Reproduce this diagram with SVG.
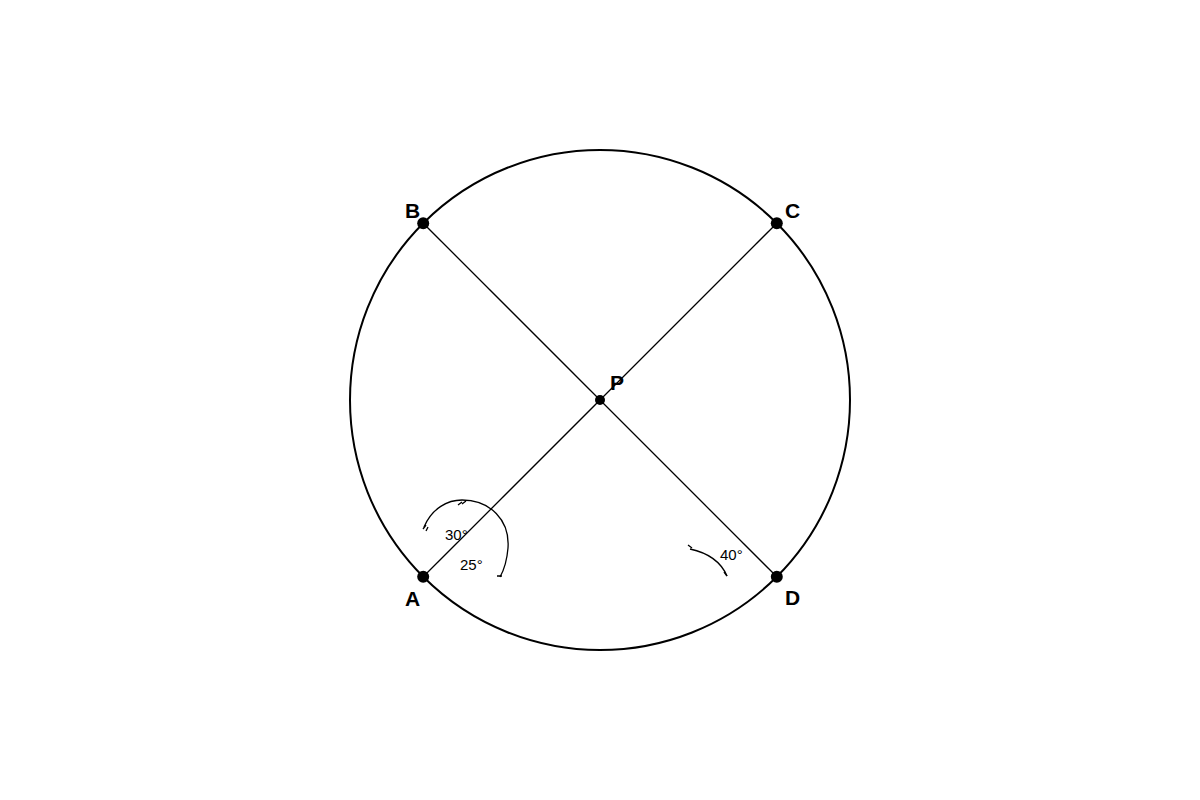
<svg xmlns="http://www.w3.org/2000/svg" width="1200" height="800" viewBox="0 0 1200 800">
<style>
.lbl{font-family:"Liberation Sans",Arial,sans-serif;font-weight:bold;font-size:21px;fill:#000}
.ang{font-family:"Liberation Sans",Arial,sans-serif;font-size:15px;fill:#000}
.arc{fill:none;stroke:#000;stroke-width:1.3}
.chord{stroke:#000;stroke-width:1.3}
</style>
<rect width="1200" height="800" fill="#fff"/>
<g id="circle"><circle cx="600" cy="400" r="250" fill="none" stroke="#000" stroke-width="2"/></g>
<g id="connectors">
<line class="chord" x1="423.2" y1="223.2" x2="776.8" y2="576.8"/>
<line class="chord" x1="776.8" y1="223.2" x2="423.2" y2="576.8"/>
</g>
<g id="angles">
<path class="arc" d="M424 527 C432 508,448 500,462 500 C490 500,510 520,508 548 C507 560,504 570,500 577"/>
<path class="arc" d="M423 529 L426 525 M426 531 L428 527 M458 505 L462 502 M462 504 L466 501 M497 576 L502 576"/>
<path class="arc" d="M690 549 Q718 555,727 576"/>
<path class="arc" d="M688 545 L692 548 M724 572 L727 576"/>
<text class="ang" x="445" y="540">30°</text>
<text class="ang" x="460" y="570">25°</text>
<text class="ang" x="720" y="560">40°</text>
</g>
<g id="A"><circle cx="423.2" cy="576.8" r="6"/><text class="lbl" x="405" y="606">A</text></g>
<g id="B"><circle cx="423.2" cy="223.2" r="6"/><text class="lbl" x="405" y="218">B</text></g>
<g id="C"><circle cx="776.8" cy="223.2" r="6"/><text class="lbl" x="785" y="218">C</text></g>
<g id="D"><circle cx="776.8" cy="576.8" r="6"/><text class="lbl" x="785" y="605">D</text></g>
<g id="P"><circle cx="600" cy="400" r="5"/><text class="lbl" x="610" y="390">P</text></g>
</svg>
